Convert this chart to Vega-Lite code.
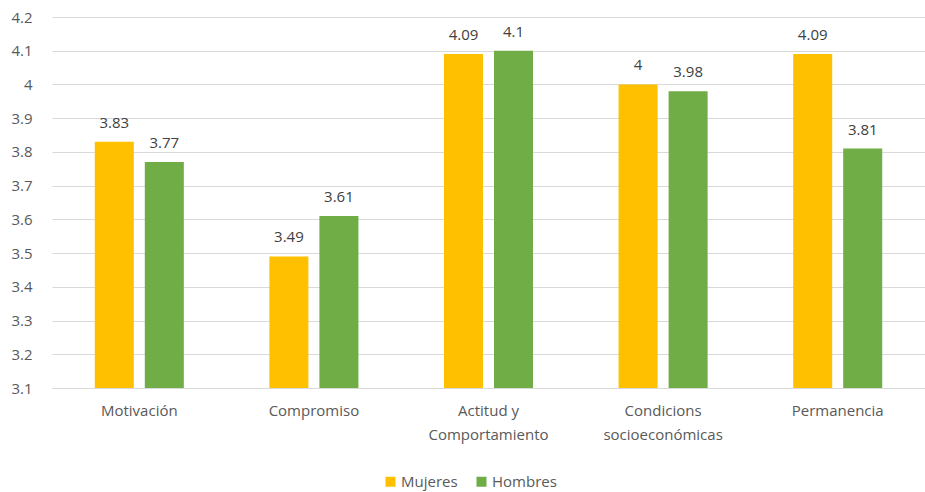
{
  "$schema": "https://vega.github.io/schema/vega-lite/v6.json",
  "width": 873,
  "height": 371,
  "autosize": {"type": "none"},
  "padding": {"left": 52, "top": 17, "right": 0, "bottom": 104},
  "background": "white",
  "config": {
    "view": {"stroke": null},
    "font": "Open Sans",
    "axis": {"labelFont": "Open Sans", "labelColor": "#595959", "labelFontSize": 15}
  },
  "data": {
    "values": [
      {"cat": "Motivación", "serie": "Mujeres", "valor": 3.83},
      {"cat": "Motivación", "serie": "Hombres", "valor": 3.77},
      {"cat": "Compromiso", "serie": "Mujeres", "valor": 3.49},
      {"cat": "Compromiso", "serie": "Hombres", "valor": 3.61},
      {"cat": "Actitud y|Comportamiento", "serie": "Mujeres", "valor": 4.09},
      {"cat": "Actitud y|Comportamiento", "serie": "Hombres", "valor": 4.1},
      {"cat": "Condicions|socioeconómicas", "serie": "Mujeres", "valor": 4.0},
      {"cat": "Condicions|socioeconómicas", "serie": "Hombres", "valor": 3.98},
      {"cat": "Permanencia", "serie": "Mujeres", "valor": 4.09},
      {"cat": "Permanencia", "serie": "Hombres", "valor": 3.81}
    ]
  },
  "encoding": {
    "x": {
      "field": "cat", "type": "nominal", "sort": null, "title": null,
      "scale": {"paddingInner": 0.49, "paddingOuter": 0.245},
      "axis": {"labelAngle": 0, "ticks": false, "domainColor": "#d9d9d9", "labelPadding": 15,
               "labelExpr": "split(datum.label, '|')", "labelLineHeight": 24, "labelBaseline": "top"}
    },
    "xOffset": {"field": "serie", "type": "nominal", "sort": ["Mujeres", "Hombres"],
                "scale": {"paddingInner": 0.22, "paddingOuter": 0}},
    "y": {
      "field": "valor", "type": "quantitative", "title": null,
      "scale": {"domain": [3.1, 4.2], "zero": false, "nice": false},
      "axis": {"values": [3.1, 3.2, 3.3, 3.4, 3.5, 3.6, 3.7, 3.8, 3.9, 4.0, 4.1, 4.2],
               "format": ".1~f", "ticks": false, "domain": false, "gridColor": "#d9d9d9",
               "labelPadding": 20}
    }
  },
  "layer": [
    {
      "mark": {"type": "bar", "clip": true},
      "encoding": {
        "color": {
          "field": "serie", "type": "nominal", "title": null,
          "scale": {"domain": ["Mujeres", "Hombres"], "range": ["#FFC000", "#70AD47"]},
          "legend": {"orient": "none", "legendX": 331, "legendY": 457, "direction": "horizontal",
                     "symbolType": "square", "symbolSize": 100, "symbolStrokeWidth": 0,
                     "labelFontSize": 15, "labelColor": "#595959", "labelFont": "Open Sans",
                     "columnPadding": 16, "labelOffset": 3, "labelLimit": 200}
        }
      }
    },
    {
      "mark": {"type": "text", "baseline": "alphabetic", "dy": -14, "fontSize": 15, "color": "#404040", "font": "Open Sans"},
      "encoding": {"text": {"field": "valor", "type": "quantitative", "format": ".2~f"}}
    }
  ]
}
